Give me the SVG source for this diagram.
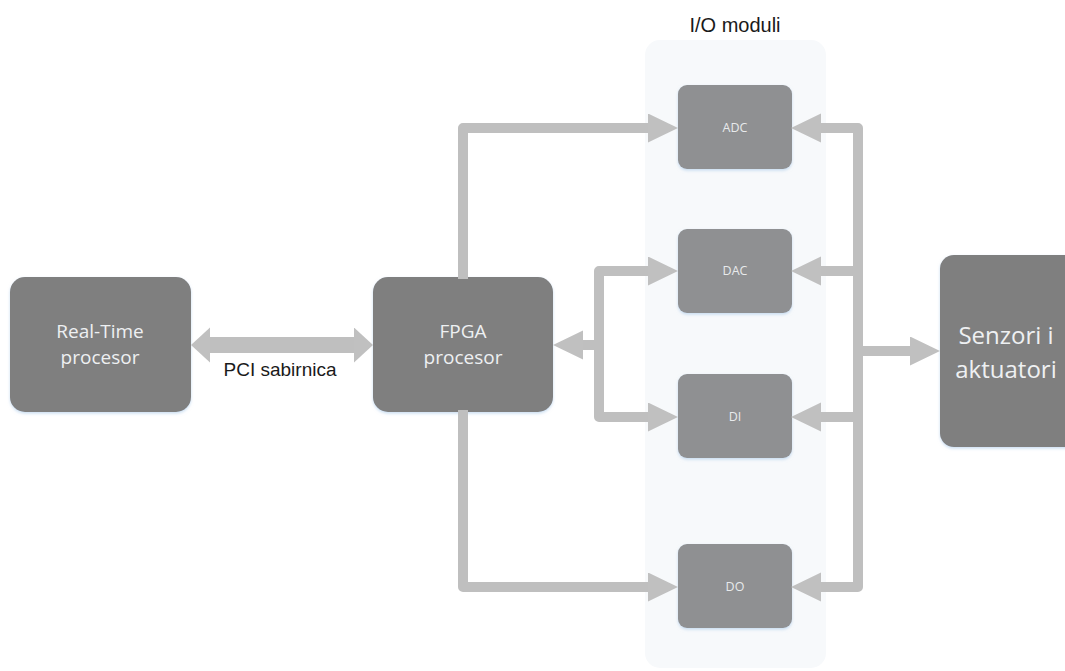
<svg xmlns="http://www.w3.org/2000/svg" width="1065" height="671" viewBox="0 0 1065 671">
  <style>
    .big { fill: #7f7f7f; filter: url(#sh); }
    .io { fill: #8f9092; filter: url(#sh); }
    .bt { font-family: "Open Sans", "Noto Sans", sans-serif; font-size: 19px; fill: #eef0f2; text-anchor: middle; }
    .bt24 { font-family: "Open Sans", "Noto Sans", sans-serif; font-size: 24px; fill: #eef0f2; text-anchor: middle; }
    .st { font-family: "Open Sans", "Noto Sans", sans-serif; font-size: 12.5px; fill: #e8eaec; text-anchor: middle; }
    .lbl { font-family: "Liberation Sans", Arial, sans-serif; fill: #1a1a1a; text-anchor: middle; }
    .c { fill: none; stroke: #bfbfbf; stroke-width: 10; stroke-linejoin: round; stroke-linecap: butt; }
    .h { marker-end: url(#ah); }
    .hh { marker-start: url(#ah); marker-end: url(#ah); }
  </style>
  <defs>
    <filter id="sh" x="-10%" y="-10%" width="120%" height="125%">
      <feDropShadow dx="0" dy="1.5" stdDeviation="1.5" flood-color="#9ec3e6" flood-opacity="0.55"/>
    </filter>
    <marker id="ah" markerUnits="userSpaceOnUse" markerWidth="30" markerHeight="30" refX="0" refY="14.5" orient="auto-start-reverse" viewBox="0 0 30 30">
      <path d="M0,0 L30,14.5 L0,29 z" fill="#c0c0c0"/>
    </marker>
    <marker id="bh" markerUnits="userSpaceOnUse" markerWidth="19" markerHeight="36" refX="0" refY="17.5" orient="auto-start-reverse" viewBox="0 0 19 36">
      <path d="M0,0 L19,17.5 L0,35 z" fill="#c0c0c0"/>
    </marker>
  </defs>

  <rect width="1065" height="671" fill="#ffffff"/>

  <g id="io-panel">
    <rect x="645" y="40" width="181" height="628" rx="15" fill="#f7f9fb"/>
    <text class="lbl" x="735" y="32" font-size="20">I/O moduli</text>
  </g>

  <g id="realtime">
    <rect class="big" x="10" y="277" width="181" height="135" rx="15"/>
    <text class="bt" x="100" y="338">Real-Time</text>
    <text class="bt" x="100" y="364">procesor</text>
  </g>

  <g id="fpga">
    <rect class="big" x="373" y="277" width="180" height="135" rx="15"/>
    <text class="bt" x="463" y="338">FPGA</text>
    <text class="bt" x="463" y="364">procesor</text>
  </g>

  <g id="adc">
    <rect class="io" x="678" y="85" width="114" height="84" rx="9"/>
    <text class="st" x="735" y="132">ADC</text>
  </g>
  <g id="dac">
    <rect class="io" x="678" y="229" width="114" height="84" rx="9"/>
    <text class="st" x="735" y="275">DAC</text>
  </g>
  <g id="di">
    <rect class="io" x="678" y="374" width="114" height="84" rx="9"/>
    <text class="st" x="735" y="421">DI</text>
  </g>
  <g id="do">
    <rect class="io" x="678" y="544" width="114" height="84" rx="9"/>
    <text class="st" x="735" y="591">DO</text>
  </g>

  <g id="senzori">
    <rect class="big" x="940" y="255" width="140" height="192" rx="14"/>
    <text class="bt24" x="1006" y="344">Senzori i</text>
    <text class="bt24" x="1006" y="378">aktuatori</text>
  </g>

  <g id="connectors">
    <path d="M210,345 H354" fill="none" stroke="#bfbfbf" stroke-width="16" marker-start="url(#bh)" marker-end="url(#bh)"/>
    <text class="lbl" x="280" y="376" font-size="19">PCI sabirnica</text>
    <path class="c h" d="M463,279 V128 H648"/>
    <path class="c h" d="M463,410 V587 H648"/>
    <path class="c hh" d="M648,271 H599 V417 H648"/>
    <path class="c h" d="M599,345 H583"/>
    <path class="c hh" d="M821,128 H858 V587 H821"/>
    <path class="c h" d="M858,271 H821"/>
    <path class="c h" d="M858,417 H821"/>
    <path class="c h" d="M858,351 H910"/>
  </g>
</svg>
